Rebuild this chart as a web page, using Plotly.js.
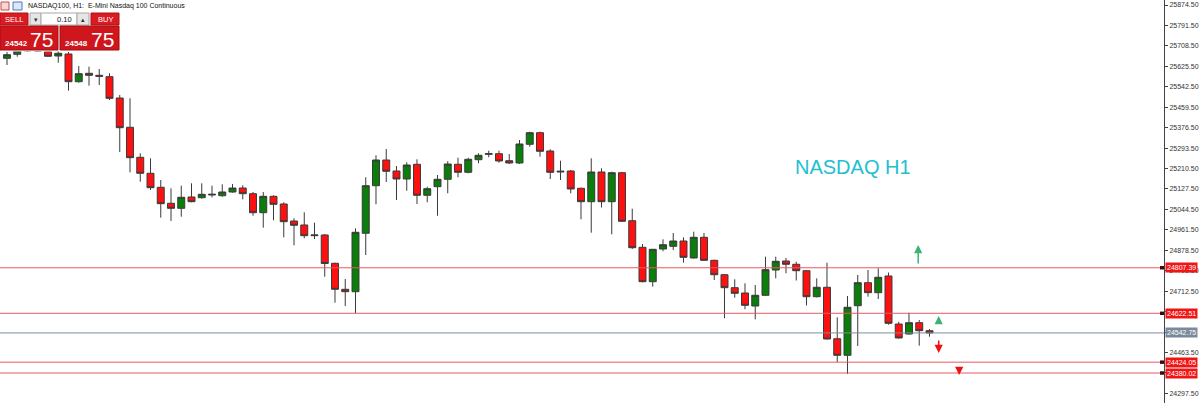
<!DOCTYPE html>
<html><head><meta charset="utf-8">
<script src="https://cdn.plot.ly/plotly-3.0.1.min.js"></script>
<style>html,body{margin:0;padding:0;background:#fff;}#chart{width:1200px;height:403px;}</style>
</head><body><div id="chart"></div>
<script>
// ---- data ----
const open = [25658.0,25674.3,25687.7,25691.8,25684.9,25667.4,25675.5,25563.0,25597.1,25589.0,
25583.3,25496.8,25377.8,25256.0,25191.0,25134.2,25069.2,25048.9,25094.8,25091.9,
25102.9,25100.1,25115.1,25131.3,25108.2,25031.0,25097.6,25066.4,24997.3,24981.1,
24937.6,24940.5,24825.5,24720.0,24710.2,24947.4,25140.7,25245.0,25200.4,25167.9,
25227.6,25101.7,25136.6,25166.7,25227.6,25195.1,25246.3,25268.2,25270.6,25242.2,
25232.9,25308.8,25355.9,25281.6,25196.3,25200.4,25130.1,25075.7,25196.3,25075.7,
25193.5,24998.5,24890.5,24750.8,24883.6,24894.6,24916.1,24847.1,24931.1,24837.7,
24779.2,24726.5,24704.9,24652.1,24695.6,24798.3,24834.9,24821.5,24795.5,24689.9,
24728.1,24519.3,24451.9,24653.3,24746.8,24706.2,24774.0,24579.0,24538.4,24584.3,
24551.8];
const high = [25683.6,25694.6,25708.0,25703.9,25699.9,25691.8,25683.6,25626.8,25623.9,25614.6,
25597.1,25509.0,25495.6,25272.3,25251.9,25163.8,25130.1,25140.7,25150.4,25150.4,
25140.7,25146.4,25147.6,25142.3,25115.1,25115.1,25101.7,25073.3,25008.3,25032.6,
24990.4,24944.5,24828.0,24761.8,24967.7,25174.8,25264.1,25289.7,25220.7,25235.7,
25247.9,25136.6,25184.1,25239.8,25254.4,25254.4,25272.3,25282.8,25282.8,25269.4,
25326.3,25360.0,25360.0,25288.5,25242.2,25204.4,25133.0,25251.9,25211.3,25197.5,
25197.0,25047.3,24903.9,24883.6,24923.0,24948.6,24931.1,24953.9,24948.6,24840.0,
24782.0,24760.6,24744.3,24737.4,24852.3,24852.3,24847.1,24832.0,24798.0,24764.6,
24828.0,24606.2,24692.7,24778.0,24798.3,24805.2,24788.2,24588.4,24624.9,24595.3,
24558.7];
const low = [25630.8,25664.5,25683.6,25683.6,25663.3,25640.2,25526.5,25559.0,25546.8,25549.6,
25488.7,25277.5,25195.1,25156.9,25123.2,25010.7,24997.3,25014.8,25073.3,25087.9,
25093.6,25096.0,25112.3,25085.4,25018.8,24970.1,25000.2,24931.1,24898.6,24927.1,
24924.2,24771.1,24665.5,24652.1,24622.5,24859.2,25065.1,25155.7,25082.6,25120.4,
25066.4,25073.3,25018.8,25109.8,25174.8,25191.0,25231.6,25256.0,25234.1,25228.8,
25228.8,25299.1,25258.4,25167.9,25163.8,25109.8,25004.2,24949.8,25052.1,24943.3,
24994.0,24883.6,24748.0,24730.5,24874.3,24879.6,24828.0,24845.0,24835.0,24757.7,
24602.2,24685.8,24638.7,24598.1,24693.0,24764.6,24784.9,24755.7,24654.2,24687.0,
24516.0,24424.7,24376.0,24489.7,24689.9,24680.6,24576.2,24520.0,24536.0,24490.9,
24527.5];
const close = [25672.7,25687.7,25693.8,25687.7,25666.2,25678.4,25563.0,25595.5,25589.0,25585.0,
25495.6,25376.2,25254.4,25191.0,25132.6,25067.6,25048.9,25093.6,25075.7,25105.7,
25105.7,25115.1,25131.3,25108.2,25031.0,25097.6,25065.1,24994.5,24979.9,24937.6,
24940.5,24824.7,24720.0,24710.2,24951.4,25140.7,25245.0,25199.2,25167.9,25224.7,
25101.7,25128.5,25166.7,25228.8,25195.1,25247.9,25264.1,25270.6,25241.0,25232.9,
25310.0,25355.9,25280.4,25195.1,25199.2,25127.3,25075.7,25196.3,25075.7,25193.5,
24996.1,24888.9,24750.8,24882.4,24901.1,24916.1,24849.9,24931.1,24837.7,24779.2,
24726.5,24703.7,24655.0,24695.6,24799.6,24833.7,24821.5,24795.5,24689.9,24728.1,
24518.1,24451.9,24646.9,24746.8,24706.2,24768.7,24581.9,24522.2,24584.3,24551.8,
24542.75];
const tickValues = [25874.5,25791.5,25708.5,25625.5,25542.5,25459.5,25376.5,25293.5,25210.5,25127.5,
25044.5,24961.5,24878.5,24795.5,24712.5,24629.5,24546.5,24463.5,24380.5,24297.5];
// tick labels that sit fully under a level label in the reference are not visible there
const hiddenTicks = [24629.5, 24546.5, 24380.5];
const levels = [24807.39, 24622.51, 24424.05, 24380.02];
const lastPrice = 24542.75;
// trade signal arrows: bar index, tail price, head price, direction
const signalBar  = [88.9, 90.9, 90.9, 92.9];
const signalFrom = [24818.6, 24575.0, 24518.1, 24400.0];
const signalTo   = [24899.9, 24611.5, 24461.2, 24372.0];
const signalUp   = [true, true, false, false];
const symbolTitle = "NASDAQ100, H1:\u00a0\u00a0E-Mini Nasdaq 100 Continuous";
const chartLabel = "NASDAQ H1";
const bidBig = "24542", askBig = "24548", pipsBid = "75", pipsAsk = "75", lotSize = "0.10";

// ---- layout helpers (pixel positions for the overlay panel) ----
const PW = 1164, PH = 403;
const px = v => v / PW;
const py = v => 1 - v / PH;

const xIdx = open.map((_, i) => i);
const FONT = "Liberation Sans, Arial, sans-serif";

const trace = {
  type: 'candlestick',
  x: xIdx, open: open, high: high, low: low, close: close,
  increasing: {fillcolor: '#0b7d0b', line: {color: '#3a3a3a', width: 1}},
  decreasing: {fillcolor: '#ff1010', line: {color: '#3a3a3a', width: 1}},
  whiskerwidth: 0,
  hoverinfo: 'skip'
};

const shapes = [];
const annotations = [];

levels.forEach(v => {
  shapes.push({type: 'line', xref: 'paper', yref: 'y', x0: 0, x1: 1, y0: v, y1: v,
    line: {color: '#e85a5c', width: 1}, layer: 'above'});
  shapes.push({type: 'rect', xref: 'paper', yref: 'y', x0: px(1160), x1: px(1164), y0: v - 7, y1: v + 7,
    fillcolor: '#3a0a0a', line: {width: 0}});
  annotations.push({xref: 'paper', yref: 'y', x: 1, y: v, xanchor: 'left', yanchor: 'middle', xshift: 1,
    text: v.toFixed(2), showarrow: false, bgcolor: '#f01414', borderpad: 1,
    font: {family: FONT, size: 7, color: '#ffffff'}});
});
shapes.push({type: 'line', xref: 'paper', yref: 'y', x0: 0, x1: 1, y0: lastPrice, y1: lastPrice,
  line: {color: '#7d8c9c', width: 1}, layer: 'above'});
annotations.push({xref: 'paper', yref: 'y', x: 1, y: lastPrice, xanchor: 'left', yanchor: 'middle', xshift: 1,
  text: lastPrice.toFixed(2), showarrow: false, bgcolor: '#7b8a9b', borderpad: 1,
  font: {family: FONT, size: 7, color: '#ffffff'}});

signalBar.forEach((b, i) => {
  annotations.push({xref: 'x', yref: 'y', axref: 'x', ayref: 'y', x: b, y: signalTo[i], ax: b, ay: signalFrom[i],
    text: '', showarrow: true, arrowhead: 2, arrowsize: 1.1, arrowwidth: 1.5,
    arrowcolor: signalUp[i] ? '#3cb371' : '#ee1111'});
});

annotations.push({xref: 'paper', yref: 'paper', x: px(853), y: py(167), xanchor: 'center', yanchor: 'middle',
  text: chartLabel, showarrow: false, font: {family: FONT, size: 20, color: '#22c0cf'}});

// ---- trading panel (top left) ----
function box(x0, y0, x1, y1, fill, line) {
  shapes.push({type: 'rect', xref: 'paper', yref: 'paper', x0: px(x0), x1: px(x1), y0: py(y1), y1: py(y0),
    fillcolor: fill, line: {color: line || fill, width: 1}, layer: 'above'});
}
function txt(x, y, t, size, color, anchor, bold) {
  annotations.push({xref: 'paper', yref: 'paper', x: px(x), y: py(y), xanchor: anchor || 'left', yanchor: 'middle',
    text: bold ? '<b>' + t + '</b>' : t, showarrow: false, font: {family: FONT, size: size, color: color}});
}
box(0, 11, 120, 51, '#ffffff', '#ffffff');
box(1, 2, 9, 10, '#f6d6d6', '#c84a4a');
box(13, 2, 22, 10, '#dce8f8', '#4f78b8');
txt(26, 6, symbolTitle, 7, '#111111');
box(0, 13, 28, 25, '#d91b22', '#b01015');
txt(14, 19, 'SELL', 7.5, '#ffffff', 'center');
box(30, 13, 41, 25, '#e6e6e6', '#a8a8a8');
txt(35.5, 19, '\u25BE', 7, '#333333', 'center');
box(41, 13, 77, 25, '#ffffff', '#a8a8a8');
txt(74, 19, lotSize, 7.5, '#111111', 'right');
box(77, 13, 89, 25, '#e6e6e6', '#a8a8a8');
txt(83, 19, '\u25B4', 7, '#333333', 'center');
box(91, 13, 119, 25, '#d91b22', '#b01015');
txt(105, 19, 'BUY', 7.5, '#ffffff', 'center');
box(0, 26, 58, 50, '#cf161d', '#a50d12');
box(60, 26, 119, 50, '#cf161d', '#a50d12');
txt(3, 43, bidBig, 8, '#ffffff', 'left', true);
txt(28, 39, pipsBid, 21, '#ffffff', 'left');
txt(63, 43, askBig, 8, '#ffffff', 'left', true);
txt(89, 39, pipsAsk, 21, '#ffffff', 'left');

const layout = {
  width: 1200, height: 403,
  margin: {l: 0, r: 36, t: 0, b: 0, pad: 0},
  paper_bgcolor: '#ffffff', plot_bgcolor: '#ffffff',
  showlegend: false,
  boxgap: 0.32, boxgroupgap: 0,
  xaxis: {range: [-0.683, 112.88], showgrid: false, zeroline: false, showticklabels: false,
    showline: false, ticks: '', rangeslider: {visible: false}, fixedrange: true},
  yaxis: {side: 'right', range: [24258.2, 25894.8], showgrid: false, zeroline: false,
    showline: true, linecolor: '#444444', linewidth: 1, ticks: 'outside', ticklen: 3, tickcolor: '#444444',
    tickvals: tickValues,
    ticktext: tickValues.map(v => hiddenTicks.includes(v) ? '' : v.toFixed(2)),
    tickfont: {family: FONT, size: 7, color: '#333333'}, fixedrange: true},
  shapes: shapes,
  annotations: annotations
};
Plotly.newPlot('chart', [trace], layout, {staticPlot: true, displayModeBar: false});
</script></body></html>
